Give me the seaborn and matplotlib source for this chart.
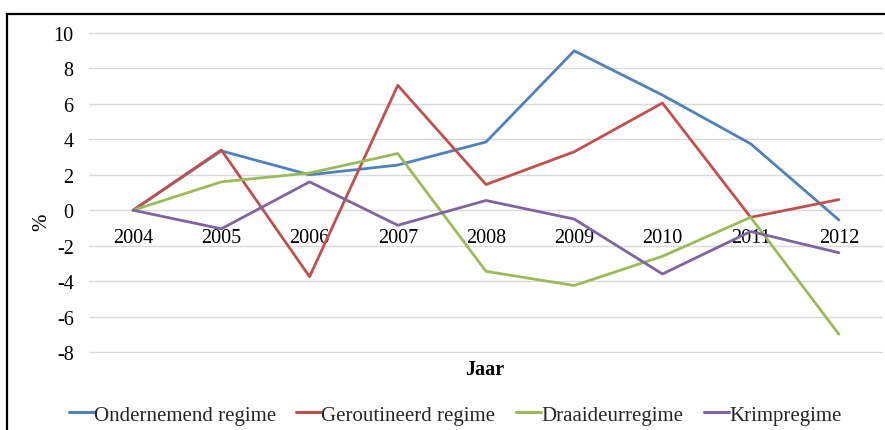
import matplotlib
matplotlib.use("Agg")
import matplotlib.pyplot as plt
import matplotlib.patches as mpatches
import seaborn as sns
import pandas as pd

years = [2004, 2005, 2006, 2007, 2008, 2009, 2010, 2011, 2012]
ondernemend = [0, 3.35, 2.0, 2.55, 3.85, 9.0, 6.5, 3.75, -0.55]
geroutineerd = [0, 3.4, -3.75, 7.05, 1.45, 3.3, 6.05, -0.4, 0.6]
draaideur = [0, 1.6, 2.1, 3.2, -3.45, -4.25, -2.6, -0.4, -7.0]
krimp = [0, -1.05, 1.6, -0.85, 0.55, -0.5, -3.6, -1.2, -2.4]
series_names = ["Ondernemend regime", "Geroutineerd regime", "Draaideurregime", "Krimpregime"]
colors = ["#4F81BD", "#C0504D", "#9BBB59", "#8064A2"]
yticks = [-8, -6, -4, -2, 0, 2, 4, 6, 8, 10]

rows = []
for name, vals in zip(series_names, [ondernemend, geroutineerd, draaideur, krimp]):
    for y, v in zip(years, vals):
        rows.append({"Jaar": y, "waarde": v, "regime": name})
df = pd.DataFrame(rows)

sns.set_theme(style="white")
plt.rcParams["font.family"] = ["Liberation Serif", "DejaVu Serif"]

fig = plt.figure(figsize=(8.85, 4.31), dpi=100)
ax = fig.add_axes([89 / 885, 1 - 354 / 431, (883 - 89) / 885, (354 - 33) / 431])

sns.lineplot(data=df, x="Jaar", y="waarde", hue="regime", palette=colors,
             hue_order=series_names, linewidth=2.0, ax=ax, legend=True)

ax.set_xlim(years[0] - 0.5, years[-1] + 0.5)
ax.set_ylim(-8.06, 10.06)
ax.set_yticks(yticks)
ax.set_yticklabels([str(t) for t in yticks])
ax.set_xticks(years)
ax.set_xticklabels([str(y) for y in years])
ax.grid(axis="y", color="#D9D9D9", linewidth=1.0)
ax.grid(axis="x", visible=False)
ax.set_axisbelow(True)
for s in ["top", "right", "left"]:
    ax.spines[s].set_visible(False)
ax.spines["bottom"].set_position(("data", 0))
ax.spines["bottom"].set_visible(False)
ax.tick_params(axis="x", length=0, pad=12.5, labelsize=14.5, colors="#000000")
ax.tick_params(axis="y", length=0, pad=11, labelsize=14.5, colors="#000000")

ax.set_xlabel("")
ax.set_ylabel("%", fontsize=15, color="#000000")
ax.yaxis.set_label_coords(-0.047, 0.41)
fig.text(485 / 885, 1 - 370 / 431, "Jaar", ha="center", va="center",
         fontsize=14.5, fontweight="bold", color="#000000")

handles, labels = ax.get_legend_handles_labels()
ax.get_legend().remove()
leg = fig.legend(handles, labels, loc="center", bbox_to_anchor=(455 / 885, 1 - 416 / 431),
                 ncol=4, frameon=False, fontsize=15, handlelength=1.2, handletextpad=0.0,
                 columnspacing=1.0, borderaxespad=0)
for h in leg.get_lines():
    h.set_linewidth(2.2)

border = mpatches.Rectangle((6.5 / 885, -0.1), 1.2, 1 - 15 / 431 + 0.1,
                            transform=fig.transFigure, fill=False,
                            edgecolor="#000000", linewidth=1.6, clip_on=False)
fig.patches.append(border)

fig.savefig("out.png", dpi=100)
